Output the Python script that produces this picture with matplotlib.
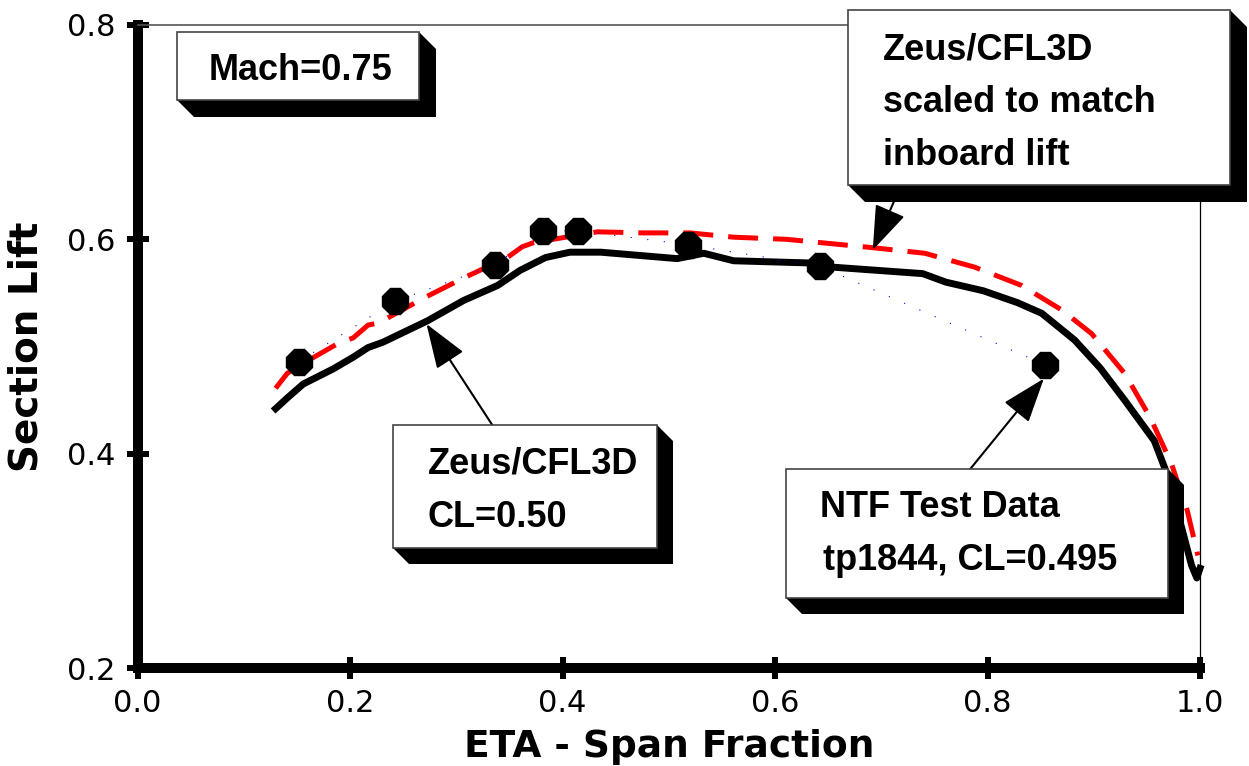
import matplotlib
matplotlib.use('Agg')
import matplotlib.pyplot as plt
from matplotlib.patches import Rectangle, Polygon
from matplotlib.transforms import Affine2D

plt.rcParams['font.family'] = ['Liberation Sans', 'DejaVu Sans']

# NTF test data (tp1844)
ntf_eta = [0.152, 0.242, 0.336, 0.382, 0.415, 0.518, 0.642, 0.854]
ntf_cl = [0.486, 0.542, 0.576, 0.608, 0.608, 0.595, 0.575, 0.483]

# Zeus/CFL3D, CL=0.50
zeus_eta = [0.130, 0.141, 0.156, 0.184, 0.203, 0.217, 0.231, 0.273, 0.307, 0.339,
            0.360, 0.384, 0.407, 0.436, 0.508, 0.533, 0.561, 0.631, 0.655, 0.739,
            0.761, 0.796, 0.828, 0.851, 0.882, 0.906, 0.929, 0.957, 0.969, 0.983,
            0.988, 0.992, 0.997, 1.000]
zeus_cl = [0.442, 0.452, 0.465, 0.479, 0.490, 0.499, 0.504, 0.524, 0.543, 0.557,
           0.571, 0.583, 0.588, 0.588, 0.582, 0.587, 0.580, 0.578, 0.574, 0.568,
           0.560, 0.552, 0.541, 0.531, 0.506, 0.480, 0.450, 0.412, 0.381, 0.330,
           0.311, 0.296, 0.284, 0.293]

# Zeus/CFL3D scaled to match inboard lift
scaled_eta = [0.130, 0.141, 0.166, 0.189, 0.203, 0.217, 0.227, 0.269, 0.307, 0.348,
              0.362, 0.373, 0.433, 0.476, 0.520, 0.561, 0.611, 0.694, 0.741, 0.788,
              0.832, 0.870, 0.898, 0.929, 0.953, 0.973, 0.988, 0.998]
scaled_cl = [0.461, 0.475, 0.490, 0.503, 0.508, 0.520, 0.522, 0.545, 0.564, 0.583,
             0.593, 0.597, 0.607, 0.606, 0.606, 0.602, 0.600, 0.592, 0.587, 0.574,
             0.557, 0.534, 0.512, 0.475, 0.434, 0.391, 0.347, 0.305]

x_ticks = [0.0, 0.2, 0.4, 0.6, 0.8, 1.0]
y_ticks = [0.2, 0.4, 0.6, 0.8]

W, H = 1249, 766
fig = plt.figure(figsize=(W / 100, H / 100), dpi=100)
ax = fig.add_axes([137.5 / W, 98 / H, 1062.5 / W, 643 / H])
# pixel coords measured from the top-left corner of the figure
px = Affine2D().scale(1 / W, -1 / H).translate(0, 1) + fig.transFigure

ax.plot(zeus_eta, zeus_cl, color='black', lw=5, zorder=2, clip_on=False,
        solid_joinstyle='round')
ax.plot(scaled_eta, scaled_cl, color='red', lw=3.6, dashes=(6, 3), zorder=3, clip_on=False)
ax.plot(ntf_eta, ntf_cl, color='blue', lw=0.8, dashes=(1, 14), zorder=3)
ax.plot(ntf_eta, ntf_cl, linestyle='none', marker='8', ms=20, color='black', zorder=4)

ax.set_xlim(0, 1)
ax.set_ylim(0.2, 0.8)
ax.set_xticks(x_ticks)
ax.set_yticks(y_ticks)
ax.set_xticklabels(['%.1f' % v for v in x_ticks], fontsize=22, family='DejaVu Sans')
ax.set_yticklabels(['%.1f' % v for v in y_ticks], fontsize=22, family='DejaVu Sans')
ax.tick_params(direction='inout', length=16, width=4.3)
ax.tick_params(axis='x', pad=7)
ax.tick_params(axis='y', pad=8)

for side in ['left', 'bottom']:
    ax.spines[side].set_linewidth(7.2)
ax.spines['top'].set_linewidth(1.2)
ax.spines['top'].set_color('#555555')
ax.spines['right'].set_linewidth(0.9)

ax.set_xlabel('ETA - Span Fraction', fontsize=27, fontweight='bold',
              family='DejaVu Sans', va='center')
ax.set_ylabel('Section Lift', fontsize=28, fontweight='bold',
              family='DejaVu Sans', va='center')
ax.xaxis.set_label_coords(0.5, (668 - 747) / 643)
ax.yaxis.set_label_coords((27 - 137.5) / 1062.5, 0.5)


def shadow_box(l, t, r, b, d=16):
    ax.add_patch(Polygon([(l, b), (l + d, b + d), (r + d, b + d), (r + d, t + d), (r, t), (r, b)],
                         closed=True, transform=px, facecolor='black', lw=0,
                         clip_on=False, zorder=6))
    ax.add_patch(Rectangle((l, t), r - l, b - t, transform=px, facecolor='white',
                           edgecolor='#444444', lw=1.2, clip_on=False, zorder=6))


def box_text(x, y, s):
    ax.text(x, y, s, transform=px, fontsize=26, fontweight='bold',
            ha='left', va='baseline', zorder=7)


arrow = dict(arrowstyle='-|>,head_length=1.4,head_width=0.5', mutation_scale=20,
             lw=1.5, color='black', shrinkA=0, shrinkB=0)
ax.annotate('', xy=(0.272, 0.521), xytext=(0.339, 0.419), arrowprops=arrow, zorder=5)
ax.annotate('', xy=(0.853, 0.470), xytext=(0.784, 0.386), arrowprops=arrow, zorder=5)
ax.annotate('', xy=(0.692, 0.590), xytext=(0.718, 0.649), arrowprops=arrow, zorder=5)

shadow_box(177, 32, 419, 100, d=17)
box_text(209, 80, 'Mach=0.75')

shadow_box(848, 10, 1230, 185, d=17)
box_text(883, 60, 'Zeus/CFL3D')
box_text(883, 112, 'scaled to match')
box_text(883, 165, 'inboard lift')

shadow_box(393, 425, 657, 548)
box_text(428, 473, 'Zeus/CFL3D')
box_text(428, 527, 'CL=0.50')

shadow_box(786, 469, 1168, 598)
box_text(820, 517, 'NTF Test Data')
box_text(823, 570, 'tp1844, CL=0.495')

fig.savefig('out.png', dpi=100)
